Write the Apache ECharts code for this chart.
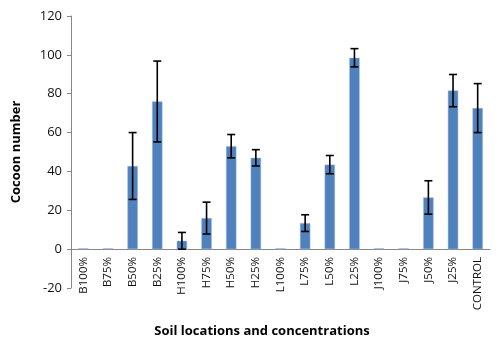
<!DOCTYPE html>
<html>
<head>
<meta charset="utf-8">
<script src="https://cdn.jsdelivr.net/npm/echarts@6/dist/echarts.min.js"></script>
<style>
  html, body { margin: 0; padding: 0; background: #fff; }
  #cocoonChart { width: 501px; height: 345px; }
</style>
</head>
<body>
<div id="cocoonChart"></div>
<script>
  const categories = ['B100%', 'B75%', 'B50%', 'B25%', 'H100%', 'H75%', 'H50%', 'H25%', 'L100%', 'L75%', 'L50%', 'L25%', 'J100%', 'J75%', 'J50%', 'J25%', 'CONTROL'];
  const means = [0.4, 0.4, 42.8, 76, 4.3, 16, 53, 47, 0.4, 13.4, 43.5, 98.5, 0.4, 0.4, 26.6, 81.6, 72.6];
  const errors = [0, 0, 17.2, 20.8, 4.3, 8.2, 6, 4.2, 0, 4.3, 4.7, 4.7, 0, 0, 8.6, 8.3, 12.6];
  const yTicks = [-20, 0, 20, 40, 60, 80, 100, 120];

  let myChart = null;

  function initChart() {
    const dom = document.getElementById('cocoonChart');
    if (dom) {
      myChart = echarts.init(dom);
      setOption();
    }
  }

  function setOption() {
    const font = '"Open Sans", Lato, sans-serif';
    const errData = categories.map((c, i) => [i, means[i], errors[i]]);
    const options = {
      animation: false,
      title: {
        text: 'Soil locations and concentrations',
        left: 257,
        top: 320,
        textAlign: 'center',
        textStyle: { fontFamily: font, fontSize: 13, fontWeight: 'bold', color: '#000' },
      },
      grid: { left: 71, right: 11, top: 16, bottom: 57, outerBoundsMode: 'none', containLabel: false },
      xAxis: {
        type: 'category',
        data: categories,
        offset: -39, // 0 line sits 39px above the grid bottom (-20)
        axisLine: { onZero: false, lineStyle: { color: '#888' } },
        axisTick: { length: 5, lineStyle: { color: '#888' } },
        axisLabel: { rotate: 90, margin: 8, fontFamily: font, fontSize: 11.5, color: '#111' },
      },
      yAxis: {
        type: 'value',
        min: yTicks[0],
        max: yTicks[yTicks.length - 1],
        interval: 20,
        name: 'Cocoon number',
        nameLocation: 'middle',
        nameGap: 48,
        nameTextStyle: { fontFamily: font, fontSize: 13, fontWeight: 'bold', color: '#000' },
        axisLine: { show: true, lineStyle: { color: '#888' } },
        axisTick: { show: true, length: 4, lineStyle: { color: '#888' } },
        axisLabel: { fontFamily: font, fontSize: 13, color: '#111', margin: 9 },
        splitLine: { show: false },
      },
      series: [
        {
          type: 'bar',
          data: means,
          barWidth: '42%',
          itemStyle: { color: '#4F81BD', borderColor: '#9ab8dd', borderWidth: 0.5 },
        },
        {
          type: 'custom',
          data: errData,
          z: 10,
          renderItem: (params, api) => {
            const e = api.value(2);
            if (!e) return null;
            const x = api.value(0);
            const m = api.value(1);
            const hi = api.coord([x, m + e]);
            const lo = api.coord([x, m - e]);
            const cap = 4;
            const style = { stroke: '#000', lineWidth: 1.6 };
            return {
              type: 'group',
              children: [
                { type: 'line', shape: { x1: hi[0], y1: hi[1], x2: lo[0], y2: lo[1] }, style },
                { type: 'line', shape: { x1: hi[0] - cap, y1: hi[1], x2: hi[0] + cap, y2: hi[1] }, style },
                { type: 'line', shape: { x1: lo[0] - cap, y1: lo[1], x2: lo[0] + cap, y2: lo[1] }, style },
              ],
            };
          },
        },
      ],
    };
    if (myChart) {
      myChart.setOption(options);
    }
  }

  initChart();
</script>
</body>
</html>
